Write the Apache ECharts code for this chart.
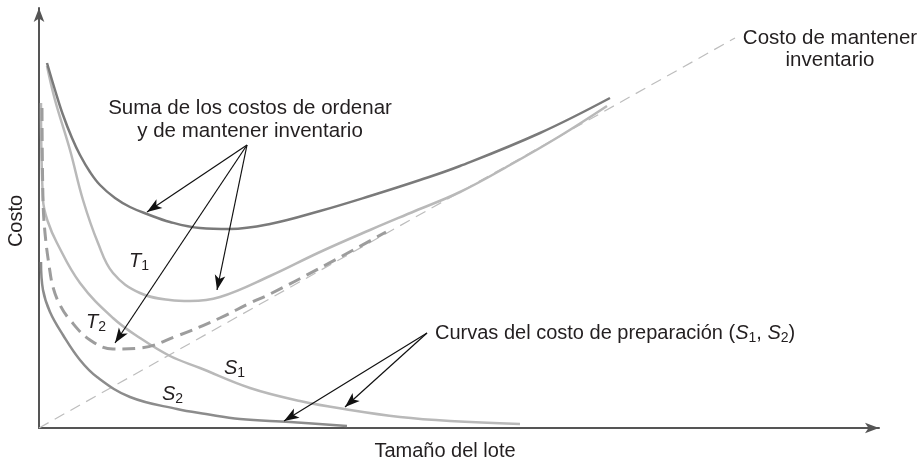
<!DOCTYPE html>
<html>
<head>
<meta charset="utf-8">
<script src="https://cdn.jsdelivr.net/npm/echarts@6/dist/echarts.min.js"></script>
<style>
  html, body { margin: 0; padding: 0; background: #fff; }
  #chart { width: 919px; height: 465px; }
</style>
</head>
<body>
<div id="chart"></div>
<script>
// lot size (x) vs cost (y)
const holding = [[0, 0], [69.6, 39.0]]
const totalTop = [
  [0.8, 36.5], [1.6, 33.8], [2.4, 31.3], [3.3, 29.0], [4.1, 27.3], [5.1, 25.6],
  [6.1, 24.3], [7.6, 23.0], [9.1, 22.1], [10.8, 21.4], [13.1, 20.6], [16.1, 20.0],
  [19.1, 19.9], [23.1, 20.4], [28.1, 21.7], [33.1, 23.2], [38.1, 24.8],
  [42.1, 26.2], [50.1, 29.5], [57.1, 33.0]
]
const totalT1 = [
  [0.8, 36.2], [1.6, 32.8], [3.1, 27.8], [4.4, 22.8], [5.9, 18.5], [7.4, 15.5],
  [10.1, 13.5], [13.1, 12.8], [15.1, 12.7], [18.1, 13.1], [23.1, 15.2],
  [28.1, 17.6], [33.1, 19.8], [37.6, 21.7], [42.1, 23.6], [47.1, 26.3],
  [52.1, 29.2], [56.8, 32.2]
]
const totalT2 = [
  [0.3, 32.0], [0.4, 22.8], [0.6, 19.5], [1.0, 16.3], [1.4, 14.1], [2.1, 12.3],
  [3.1, 10.8], [5.1, 8.8], [7.4, 7.9], [10.1, 8.0], [13.8, 9.2], [18.1, 11.0],
  [21.1, 12.5], [23.1, 13.4], [28.1, 16.0], [34.7, 19.6]
]
const setupS1 = [
  [0.2, 32.5], [0.4, 22.8], [0.9, 20.6], [1.8, 18.5], [4.1, 14.5], [7.4, 11.0],
  [10.1, 9.0], [13.1, 7.2], [16.1, 6.0], [21.1, 4.0], [26.1, 2.7], [31.1, 1.8],
  [36.1, 1.1], [41.1, 0.7], [48.1, 0.4]
]
const setupS2 = [
  [0.2, 16.6], [0.4, 13.8], [1.1, 11.6], [2.4, 9.3], [4.1, 6.8], [5.8, 5.1],
  [9.1, 3.1], [13.8, 1.9], [16.7, 1.4], [20.1, 0.9], [25.1, 0.6], [30.8, 0.2]
]
// pointer arrows: [from, to]
const sumArrows = [
  [[20.8, 28.3], [10.8, 21.6]],
  [[20.8, 28.3], [7.6, 8.5]],
  [[20.8, 28.3], [17.8, 13.8]]
]
const setupArrows = [
  [[38.8, 9.5], [24.5, 0.7]],
  [[38.8, 9.5], [30.6, 2.1]]
]

const chart = echarts.init(document.getElementById('chart'))
const font = '"Liberation Sans", Arial, Helvetica, sans-serif'
const ink = '#231f20'

function curve(name, data, color, width, type) {
  return {
    name: name,
    type: 'line',
    data: data,
    smooth: 0.4,
    showSymbol: false,
    silent: true,
    lineStyle: { color: color, width: width, type: type || 'solid' },
    z: 3
  }
}

function arrowLines(list) {
  return list.map(a => [
    { coord: a[0], symbol: 'none' },
    { coord: a[1], symbol: 'arrow' }
  ])
}

const rich = {
  n: { fontFamily: font, fontSize: 20, color: ink, lineHeight: 24 },
  i: { fontFamily: font, fontSize: 20, fontStyle: 'italic', color: ink, lineHeight: 24 },
  s: { fontFamily: font, fontSize: 14, color: ink, lineHeight: 14, verticalAlign: 'bottom' }
}

function label(x, y, text, align) {
  return {
    type: 'text', x: x, y: y, z: 10,
    style: {
      text: text, rich: rich, fill: ink,
      font: '20px ' + font,
      textAlign: align || 'left', textVerticalAlign: 'middle'
    }
  }
}

chart.setOption({
  backgroundColor: '#fff',
  animation: false,
  grid: { left: 39, right: 40, top: 8, bottom: 37 },
  xAxis: {
    type: 'value', min: 0, max: 84,
    axisLine: { show: true, symbol: ['none', 'arrow'], symbolSize: [8, 14], lineStyle: { color: '#555', width: 2 } },
    axisTick: { show: false }, axisLabel: { show: false }, splitLine: { show: false }
  },
  yAxis: {
    type: 'value', min: 0, max: 42,
    axisLine: { show: true, symbol: ['none', 'arrow'], symbolSize: [8, 14], lineStyle: { color: '#555', width: 2 } },
    axisTick: { show: false }, axisLabel: { show: false }, splitLine: { show: false }
  },
  series: [
    {
      name: 'Costo de mantener inventario',
      type: 'line', data: holding, showSymbol: false, silent: true,
      lineStyle: { color: '#bdbdbd', width: 1.2, type: [11, 7] }, z: 2
    },
    curve('S2', setupS2, '#8c8c8c', 2.5),
    curve('S1', setupS1, '#b9b9b9', 2.5),
    curve('T2', totalT2, '#9d9d9d', 3, [13, 7]),
    curve('T1', totalT1, '#b9b9b9', 2.5),
    curve('Total', totalTop, '#7a7a7a', 2.5),
    {
      type: 'line', data: [], silent: true,
      markLine: {
        silent: true, animation: false,
        symbolSize: [8, 15],
        label: { show: false },
        lineStyle: { color: '#111', width: 1.2, type: 'solid' },
        data: arrowLines(sumArrows).concat(arrowLines(setupArrows))
      },
      z: 5
    }
  ],
  graphic: [
    {
      type: 'text', x: 250, y: 120, z: 10,
      style: {
        text: 'Suma de los costos de ordenar\ny de mantener inventario',
        font: '20.5px ' + font, fill: ink, lineHeight: 23,
        textAlign: 'center', textVerticalAlign: 'middle'
      }
    },
    {
      type: 'text', x: 830, y: 49, z: 10,
      style: {
        text: 'Costo de mantener\ninventario',
        font: '20.5px ' + font, fill: ink, lineHeight: 22,
        textAlign: 'center', textVerticalAlign: 'middle'
      }
    },
    label(435, 333, '{n|Curvas del costo de preparación (}{i|S}{s|1}{n|, }{i|S}{s|2}{n|)}'),
    {
      type: 'text', x: 445, y: 451, z: 10,
      style: { text: 'Tamaño del lote', font: '20px ' + font, fill: ink, textAlign: 'center', textVerticalAlign: 'middle' }
    },
    {
      type: 'text', x: 16, y: 221, rotation: Math.PI / 2, z: 10,
      style: { text: 'Costo', font: '20px ' + font, fill: ink, textAlign: 'center', textVerticalAlign: 'middle' }
    },
    label(129, 261, '{i|T}{s|1}'),
    label(86, 322, '{i|T}{s|2}'),
    label(224, 368, '{i|S}{s|1}'),
    label(162, 394, '{i|S}{s|2}')
  ]
})
</script>
</body>
</html>
